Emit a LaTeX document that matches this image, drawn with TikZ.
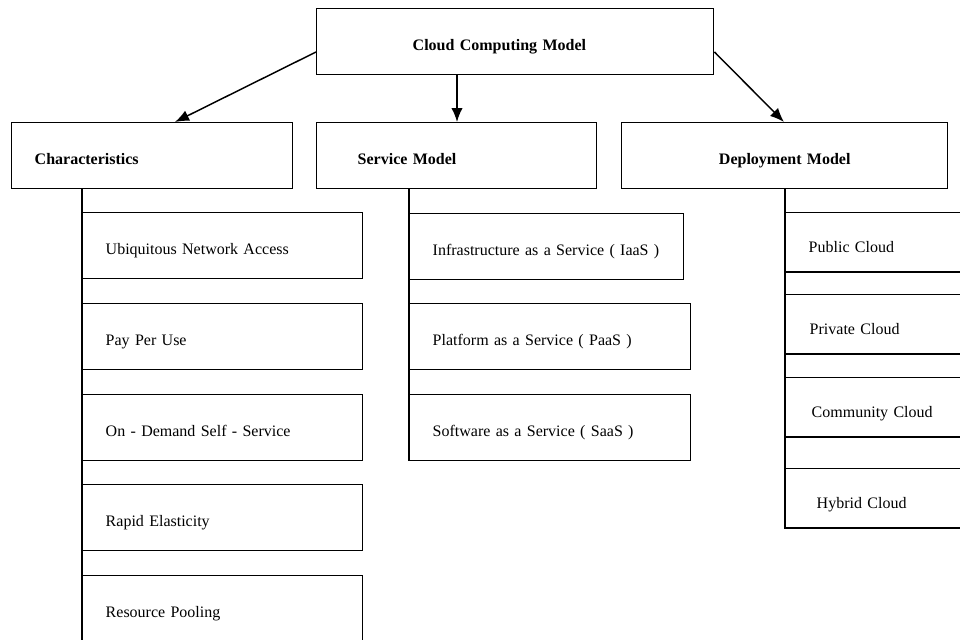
\documentclass[tikz,border=0pt]{standalone}
\usepackage{fontspec}
\setmainfont{Liberation Serif}
\usetikzlibrary{arrows.meta,calc}
\tikzstyle{head} = [draw,line width=1.1pt,rectangle,anchor=north west,minimum height=49.5pt,text height=16pt,text depth=2.5pt,align=left,font=\fontsize{12pt}{14pt}\selectfont\bfseries]
\tikzstyle{leaf} = [draw,line width=1.1pt,rectangle,anchor=north west,inner xsep=17.25pt,text width=175.5pt,minimum height=49.5pt,text height=16pt,text depth=2.5pt,align=left,font=\fontsize{12pt}{14pt}\selectfont]
\tikzstyle{edge} = [draw,line width=1.1pt,-{Latex[length=10.5pt,width=8.5pt]}]
\tikzstyle{stem} = [draw,line width=1.1pt]

\begin{document}
\begin{tikzpicture}[x=0.75pt,y=-0.75pt]
    \useasboundingbox (0,0) rectangle (960,639);
    \clip (0,0) rectangle (960,639);

    % root and the three branches
    \node[head,inner xsep=72pt,text width=153.75pt] (cloud) at (316,8) {Cloud Computing Model};
    \node[head,inner xsep=17.25pt,text width=176.25pt] (char) at (11,122) {Characteristics};
    \node[head,inner xsep=30.75pt,text width=148.5pt] (serv) at (316,122) {Service Model};
    \node[head,inner xsep=0pt,text width=244.5pt,align=center] (depl) at (621,122) {Deployment Model};

    % leaves of each branch
    \foreach \pos/ \name/ \txt in {{(82,212)/ubi/Ubiquitous Network Access},{(82,303)/pay/Pay Per Use},
        {(82,394)/demand/On - Demand Self - Service},{(82,484)/elastic/Rapid Elasticity},{(82,575)/pool/Resource Pooling}}
        \node[leaf] (\name) at \pos {\txt};

    \node[leaf,text width=171pt] (iaas) at (409,213) {Infrastructure as a Service ( IaaS )};
    \foreach \pos/ \name/ \txt in {{(409,303)/paas/Platform as a Service ( PaaS )},{(409,394)/saas/Software as a Service ( SaaS )}}
        \node[leaf,text width=176.25pt] (\name) at \pos {\txt};

    \foreach \pos/ \name/ \dx/ \txt in {{(785,212)/pub/17.25pt/Public Cloud},{(785,294)/priv/18pt/Private Cloud},
        {(785,377)/comm/19.5pt/Community Cloud},{(785,468)/hyb/23.25pt/Hybrid Cloud}}
        \node[leaf,minimum height=44.5pt,text height=18pt,inner xsep=\dx] (\name) at \pos {\txt};

    % arrows from the root
    \coordinate (servtip) at ($(serv.north west)+(141,0)$);
    \path[edge] ($(cloud.north west)+(0,44)$) -- ($(char.north west)+(164,0)$);
    \path[edge] (cloud.south -| servtip) -- (servtip);
    \path[edge] ($(cloud.north east)+(0,44)$) -- ($(depl.north west)+(163,0)$);

    % stems down the left side of the leaves
    \path[stem] (ubi.west |- char.south) -- (pool.south west);
    \path[stem] (iaas.west |- serv.south) -- (saas.south west);
    \path[stem] (pub.west |- depl.south) -- (hyb.south west);
\end{tikzpicture}
\end{document}
